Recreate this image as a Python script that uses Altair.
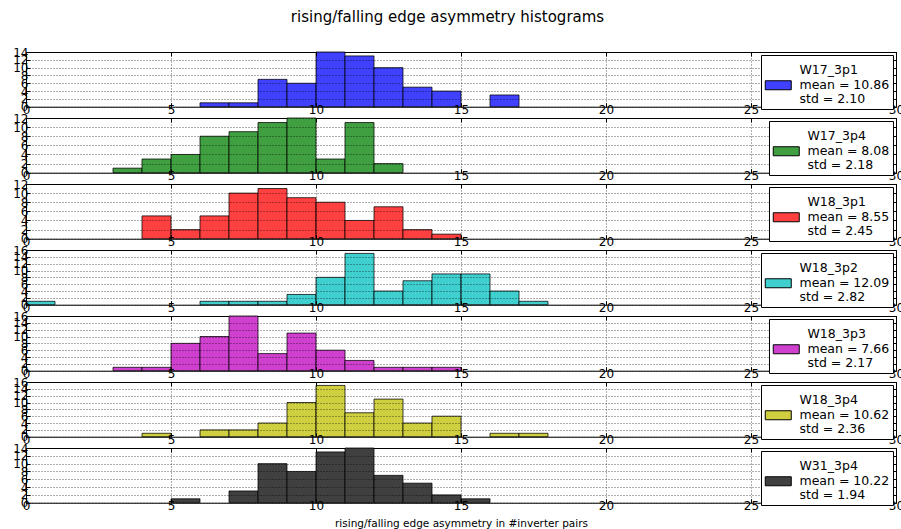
import altair as alt
import pandas as pd

title_text = "rising/falling edge asymmetry histograms"
x_title = "rising/falling edge asymmetry in #inverter pairs"
names = ["W17_3p1", "W17_3p4", "W18_3p1", "W18_3p2", "W18_3p3", "W18_3p4", "W31_3p4"]
means = [10.86, 8.08, 8.55, 12.09, 7.66, 10.62, 10.22]
stds = [2.10, 2.18, 2.45, 2.82, 2.17, 2.36, 1.94]
colors = ["#4040ff", "#409f40", "#ff4040", "#40cfcf", "#cf40cf", "#cfcf40", "#404040"]
ymax = [14, 12, 12, 16, 16, 16, 14]
x_ticks = [0, 5, 10, 15, 20, 25, 30]

bin_starts = list(range(0, 18))
counts_W17_3p1 = [0, 0, 0, 0, 0, 0, 1, 1, 7, 6, 14, 13, 10, 5, 4, 0, 3, 0]
counts_W17_3p4 = [0, 0, 0, 1, 3, 4, 8, 9, 11, 12, 3, 11, 2, 0, 0, 0, 0, 0]
counts_W18_3p1 = [0, 0, 0, 0, 5, 2, 5, 10, 11, 9, 8, 4, 7, 2, 1, 0, 0, 0]
counts_W18_3p2 = [1, 0, 0, 0, 0, 0, 1, 1, 1, 3, 8, 15, 4, 7, 9, 9, 4, 1]
counts_W18_3p3 = [0, 0, 0, 1, 1, 8, 10, 16, 5, 11, 6, 3, 1, 1, 1, 0, 0, 0]
counts_W18_3p4 = [0, 0, 0, 0, 1, 0, 2, 2, 4, 10, 15, 7, 11, 4, 6, 0, 1, 1]
counts_W31_3p4 = [0, 0, 0, 0, 0, 1, 0, 3, 10, 8, 13, 14, 7, 5, 2, 1, 0, 0]
all_counts = [counts_W17_3p1, counts_W17_3p4, counts_W18_3p1, counts_W18_3p2,
              counts_W18_3p3, counts_W18_3p4, counts_W31_3p4]

FONT = "DejaVu Sans"
W, H = 870, 54.7


def panel(i, last):
    df = pd.DataFrame({"start": bin_starts, "count": all_counts[i]})
    df = df[df["count"] > 0].copy()
    df["end"] = df["start"] + 1
    df["label"] = f"{names[i]}|mean = {means[i]:.2f}|std = {stds[i]:.2f}"
    xs = alt.Scale(domain=[0, 30], nice=False, zero=False)
    ys = alt.Scale(domain=[0, ymax[i]], nice=False)
    yvals = list(range(0, ymax[i] + 1, 2))
    main_x_axis = alt.Axis(
        values=x_ticks, format="d", grid=True, domain=False,
        tickSize={"expr": "-4"}, labelPadding=2, labelFlush=False,
        title=x_title if last else None, zindex=1,
        **({"titleY": 21, "titleBaseline": "middle",
            "titleFontSize": 10.5, "titleFontWeight": "normal", "titleFont": FONT} if last else {}),
    )
    main_y_axis = alt.Axis(
        values=yvals, format="d", grid=True, domain=False, title=None,
        tickSize={"expr": "-4"}, labelPadding=2, labelOverlap=False, zindex=1,
    )
    bars = alt.Chart(df).mark_bar(stroke="black", strokeOpacity=0.75, strokeWidth=1, opacity=1).encode(
        x=alt.X("start:Q", scale=xs, axis=main_x_axis),
        x2="end:Q",
        y=alt.Y("count:Q", scale=ys, axis=main_y_axis),
        y2=alt.datum(0),
        color=alt.Color("label:N", scale=alt.Scale(domain=[df["label"].iloc[0]], range=[colors[i]]),
                        legend=alt.Legend(title=None, labelExpr="split(datum.label, '|')")),
    )
    ghost = alt.Chart(df).mark_bar(opacity=0).encode(
        x=alt.X("start:Q", scale=xs, axis=alt.Axis(orient="top", values=x_ticks, labels=False, grid=False,
                                                 domain=False, tickSize={"expr": "-4"}, title=None, zindex=1)),
        x2="end:Q",
        y=alt.Y("count:Q", scale=ys, axis=alt.Axis(orient="right", values=yvals, labels=False, grid=False,
                                                 domain=False, tickSize={"expr": "-4"}, title=None, zindex=1)),
        y2=alt.datum(0),
    )
    return alt.layer(bars, ghost).resolve_axis(x="independent", y="independent").properties(width=W, height=H)


chart = alt.vconcat(*[panel(i, i == len(names) - 1) for i in range(len(names))], spacing=11).resolve_scale(
    color="independent"
).properties(
    bounds="flush",
    title=alt.TitleParams(title_text, fontSize=15, fontWeight="normal", font=FONT, anchor="middle",
                          frame="group", offset=21, dx=-13.5, color="black"),
    padding={"left": 12, "top": 9, "right": -4, "bottom": 0},
).configure_view(stroke="black", strokeWidth=1).configure_axis(
    labelFont=FONT, labelFontSize=12, labelColor="black", tickColor="black", tickWidth=1,
    gridColor="black", gridDash=[1, 2], gridWidth=0.8, gridOpacity=0.8,
).configure_legend(
    orient="top-right", offset=3, padding=3, strokeColor="black", fillColor="white", cornerRadius=0,
    labelFont=FONT, labelFontSize=12.5, labelColor="black", labelOffset=23, labelLimit=300,
    labelBaseline="top",
    symbolType="M-5,16.5H21V25.5H-5Z", symbolSize=4, symbolStrokeColor="black",
    symbolStrokeWidth=1, symbolOpacity=1, zindex=3,
)

chart.save("out.html", embed_options={"renderer": "svg", "actions": False})
